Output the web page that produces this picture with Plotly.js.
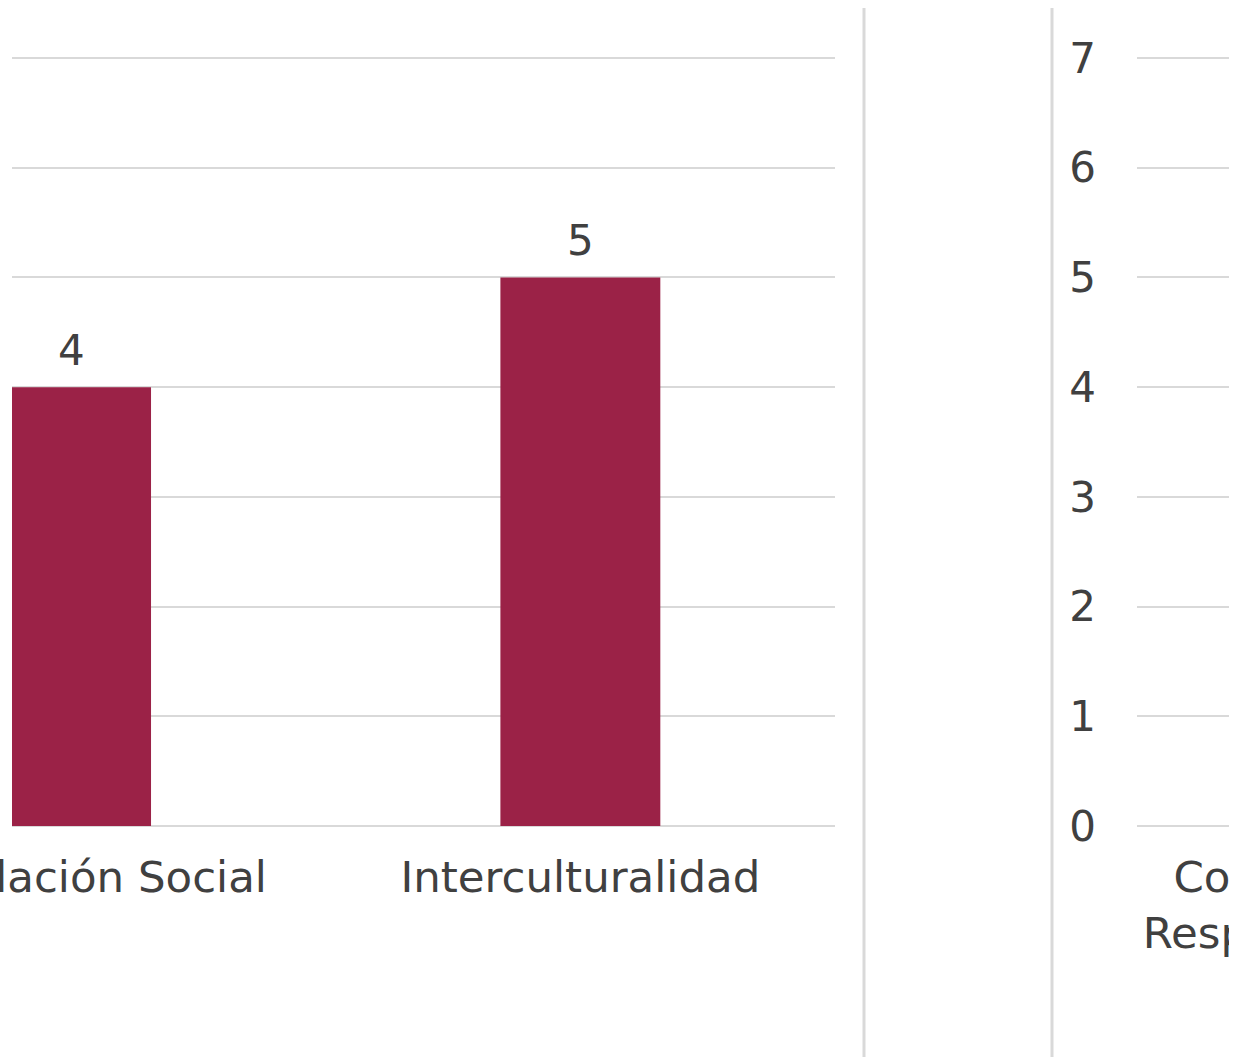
<!DOCTYPE html>
<html>
<head>
<meta charset="utf-8">
<script src="https://cdn.plot.ly/plotly-3.0.1.min.js"></script>
<style>
html,body{margin:0;padding:0;background:#fff;}
#wrap{width:1229px;height:1057px;overflow:hidden;position:relative;}
#chart{width:1700px;height:1057px;}
</style>
</head>
<body>
<div id="wrap"><div id="chart"></div></div>
<script>
// Data
const leftCategories = ["Vinculación Social", "Interculturalidad"];
const leftValues = [4, 5];
const rightCategories = ["Convivencia Escolar<br>Responsabilidad Social"];
const rightValues = [3];
const yTickValues = [0, 1, 2, 3, 4, 5, 6, 7];

(function () {
const W = 1700, H = 1057;
const barColor = "#9B2247";
const gridColor = "#D9D9D9";
const textColor = "#404040";
const fontFamily = "DejaVu Sans, Noto Sans, sans-serif";
const fs = 42;
const xfs = 43.5;

const px = v => v / W;
const plotTop = 52, plotBottom = 826;
const unit = (826 - 58) / 7;
const yMax = (plotBottom - plotTop) / unit;
const ph = plotBottom - plotTop;
const py = v => (plotBottom - v) / ph;

const data = [
  {type: "bar", x: leftCategories.map((c, i) => i), y: leftValues,
   marker: {color: barColor}, xaxis: "x", yaxis: "y", hoverinfo: "none", width: 0.314},
  {type: "bar", x: rightCategories.map((c, i) => i), y: rightValues,
   marker: {color: barColor}, xaxis: "x2", yaxis: "y2", hoverinfo: "none", width: 0.314}
];

const annotations = [];
leftValues.forEach((v, i) => annotations.push({x: i, y: v, xref: "x", yref: "y", text: String(v),
  showarrow: false, yanchor: "bottom", yshift: 10, font: {family: fontFamily, size: fs, color: textColor}}));
rightValues.forEach((v, i) => annotations.push({x: i, y: v, xref: "x2", yref: "y2", text: String(v),
  showarrow: false, yanchor: "bottom", yshift: 10, font: {family: fontFamily, size: fs, color: textColor}}));

const yCommon = {range: [0, yMax], tickvals: yTickValues, showgrid: true, gridcolor: gridColor, gridwidth: 2,
  zeroline: true, zerolinecolor: gridColor, zerolinewidth: 2, showline: false, fixedrange: true};

const layout = {
  width: W, height: H,
  margin: {l: 0, r: 0, t: plotTop, b: H - plotBottom, pad: 0},
  paper_bgcolor: "#fff", plot_bgcolor: "#fff",
  showlegend: false,
  font: {family: fontFamily, size: fs, color: textColor},
  xaxis: {domain: [px(12), px(835)], range: [-0.116, 1.5], tickvals: leftCategories.map((c, i) => i),
    ticktext: leftCategories, showgrid: false, zeroline: false, ticks: "", ticklabelstandoff: 21,
    ticklabeloverflow: "allow",
    tickfont: {family: fontFamily, size: xfs, color: textColor}, anchor: "y"},
  yaxis: Object.assign({}, yCommon, {domain: [0, 1], showticklabels: false, anchor: "x"}),
  xaxis2: {domain: [px(1137), px(1646)], range: [-0.5, 0.5], tickvals: rightCategories.map((c, i) => i),
    ticktext: rightCategories, showgrid: false, zeroline: false, ticks: "", ticklabelstandoff: 21,
    ticklabeloverflow: "allow",
    tickfont: {family: fontFamily, size: xfs, color: textColor}, anchor: "y2"},
  yaxis2: Object.assign({}, yCommon, {domain: [0, 1], anchor: "x2", ticklabelstandoff: 40,
    tickfont: {family: fontFamily, size: fs, color: textColor}}),
  annotations: annotations,
  shapes: [
    {type: "line", xref: "paper", yref: "paper", x0: px(864), x1: px(864), y0: py(1057), y1: py(8),
     line: {color: gridColor, width: 3}},
    {type: "line", xref: "paper", yref: "paper", x0: px(1052), x1: px(1052), y0: py(1057), y1: py(8),
     line: {color: gridColor, width: 3}}
  ]
};

Plotly.newPlot("chart", data, layout, {displayModeBar: false, staticPlot: true});
})();
</script>
</body>
</html>
